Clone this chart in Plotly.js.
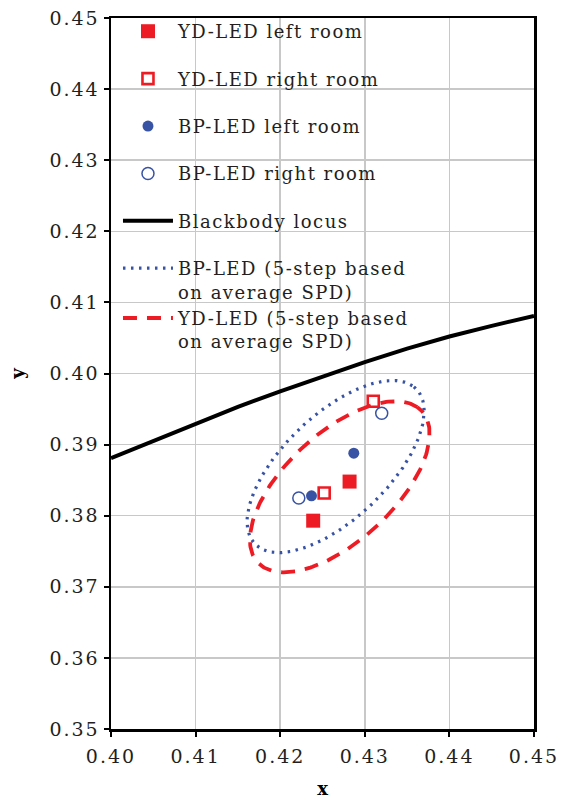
<!DOCTYPE html>
<html>
<head>
<meta charset="utf-8">
<script src="https://cdn.plot.ly/plotly-3.0.1.min.js"></script>
<style>
  html, body { margin: 0; padding: 0; background: #ffffff; }
  #chart { width: 566px; height: 799px; }
  /* wider, airier lettering for legend and tick labels */
  .legendtext { letter-spacing: 1.5px; }
  .xtick text, .ytick text { letter-spacing: 2px; }
</style>
</head>
<body>
<div id="chart"></div>
<script>
// Chromaticity coordinates (CIE 1931 x, y) of the measured rooms
const ydLeftX = [0.4282, 0.4239];
const ydLeftY = [0.3848, 0.3793];
const ydRightX = [0.4310, 0.4252];
const ydRightY = [0.3961, 0.3832];
const bpLeftX = [0.4287, 0.4237];
const bpLeftY = [0.3888, 0.3828];
const bpRightX = [0.4320, 0.4222];
const bpRightY = [0.3944, 0.3825];

// Planckian (blackbody) locus across the plotted window
const locusX = [0.400, 0.405, 0.410, 0.415, 0.420, 0.425, 0.430, 0.435, 0.440, 0.445, 0.450];
const locusY = [0.3881, 0.3905, 0.3930, 0.3953, 0.3975, 0.3996, 0.4016, 0.4035, 0.4052, 0.4067, 0.4081];

// 5-step ellipses based on the average SPD: [BP-LED, YD-LED]
const ellipseCx = [0.42655, 0.42704];
const ellipseCy = [0.38691, 0.38407];
const ellipseA = [0.01454, 0.01447];
const ellipseB = [0.00668, 0.00694];
const ellipseThetaDeg = [51.4, 50.7];

// Legend labels
const labels = [
  'YD-LED left room',
  'YD-LED right room',
  'BP-LED left room',
  'BP-LED right room',
  'Blackbody locus',
  'BP-LED (5-step based<br>on average SPD)',
  'YD-LED (5-step based<br>on average SPD)'
];

const RED = '#ed1c24';
const BLUE = '#3953a4';
const INK = '#231f20';
const FONT = 'DejaVu Serif, Liberation Serif, serif';

// outline of an ellipse given its centre, semi-axes and orientation
function ellipseOutline(i) {
  const th = ellipseThetaDeg[i] * Math.PI / 180;
  const xs = [], ys = [];
  const n = 240;
  for (let k = 0; k <= n; k++) {
    const t = 2 * Math.PI * k / n;
    const ex = ellipseA[i] * Math.cos(t);
    const ey = ellipseB[i] * Math.sin(t);
    xs.push(ellipseCx[i] + ex * Math.cos(th) - ey * Math.sin(th));
    ys.push(ellipseCy[i] + ex * Math.sin(th) + ey * Math.cos(th));
  }
  return { xs, ys };
}

const bpEll = ellipseOutline(0);
const ydEll = ellipseOutline(1);

const traces = [
  {
    x: locusX, y: locusY, type: 'scatter', mode: 'lines',
    name: labels[4], legendgroup: 'g5', legendrank: 5,
    line: { color: '#000000', width: 4 }
  },
  {
    x: bpEll.xs, y: bpEll.ys, type: 'scatter', mode: 'lines',
    name: labels[5], legendgroup: 'g6', legendrank: 6,
    line: { color: BLUE, width: 3.2, dash: '2.5px,5.5px' }
  },
  {
    x: ydEll.xs, y: ydEll.ys, type: 'scatter', mode: 'lines',
    name: labels[6], legendgroup: 'g6', legendrank: 7,
    line: { color: RED, width: 3.8, dash: '14px,10px' }
  },
  {
    x: ydLeftX, y: ydLeftY, type: 'scatter', mode: 'markers',
    name: labels[0], legendgroup: 'g1', legendrank: 1,
    marker: { symbol: 'square', size: 14, color: RED }
  },
  {
    x: ydRightX, y: ydRightY, type: 'scatter', mode: 'markers',
    name: labels[1], legendgroup: 'g2', legendrank: 2,
    marker: { symbol: 'square-open', size: 11, color: RED, line: { width: 2.6 } }
  },
  {
    x: bpLeftX, y: bpLeftY, type: 'scatter', mode: 'markers',
    name: labels[2], legendgroup: 'g3', legendrank: 3,
    marker: { symbol: 'circle', size: 11, color: BLUE }
  },
  {
    x: bpRightX, y: bpRightY, type: 'scatter', mode: 'markers',
    name: labels[3], legendgroup: 'g4', legendrank: 4,
    marker: { symbol: 'circle-open', size: 12, color: BLUE, line: { width: 1.5 } }
  }
];

const layout = {
  width: 566,
  height: 799,
  margin: { l: 111, r: 32, t: 18, b: 70 },
  paper_bgcolor: '#ffffff',
  plot_bgcolor: '#ffffff',
  font: { family: FONT, size: 18, color: INK },
  showlegend: true,
  legend: {
    x: 0.0165, y: 1.007, xanchor: 'left', yanchor: 'top',
    bgcolor: 'rgba(255,255,255,0)', borderwidth: 0,
    font: { family: FONT, size: 18, color: INK },
    tracegroupgap: 21,
    itemwidth: 50,
    valign: 'top',
    traceorder: 'grouped'
  },
  // white panel behind the legend: hides the grid, keeps the curves visible
  shapes: [{
    type: 'rect', layer: 'between',
    xref: 'paper', yref: 'paper',
    x0: 0, x1: 0.66, y0: 0.536, y1: 1,
    fillcolor: '#ffffff', line: { width: 0 }
  }],
  xaxis: {
    range: [0.40, 0.45], tickmode: 'linear', tick0: 0.40, dtick: 0.01,
    tickformat: '.2f',
    showgrid: true, gridcolor: '#c8c8c8', gridwidth: 1.5,
    zeroline: false,
    showline: true, linecolor: '#000000', linewidth: 2.5, mirror: true,
    ticks: 'outside', ticklen: 5, tickwidth: 2, tickcolor: '#000000',
    ticklabelstandoff: 4,
    tickfont: { family: FONT, size: 19, color: INK },
    title: { text: '<b>x</b>', font: { family: FONT, size: 18, color: '#000000' }, standoff: 21 }
  },
  yaxis: {
    range: [0.35, 0.45], tickmode: 'linear', tick0: 0.35, dtick: 0.01,
    tickformat: '.2f',
    showgrid: true, gridcolor: '#c8c8c8', gridwidth: 1.5,
    zeroline: false,
    showline: true, linecolor: '#000000', linewidth: 2.5, mirror: true,
    ticks: 'outside', ticklen: 5, tickwidth: 2, tickcolor: '#000000',
    tickfont: { family: FONT, size: 19, color: INK },
    title: { text: '<b>y</b>', font: { family: FONT, size: 18, color: '#000000' }, standoff: 20 }
  },
  // inner tick marks every 0.005 on both axes
  xaxis2: {
    overlaying: 'x', anchor: 'y', side: 'bottom',
    range: [0.40, 0.45], tickmode: 'linear', tick0: 0.40, dtick: 0.005,
    showticklabels: false, showgrid: false, zeroline: false, showline: false,
    ticks: 'inside', ticklen: 4, tickwidth: 2, tickcolor: '#000000'
  },
  yaxis2: {
    overlaying: 'y', anchor: 'x', side: 'left',
    range: [0.35, 0.45], tickmode: 'linear', tick0: 0.35, dtick: 0.005,
    showticklabels: false, showgrid: false, zeroline: false, showline: false,
    ticks: 'inside', ticklen: 3, tickwidth: 2, tickcolor: '#000000'
  }
};

Plotly.newPlot('chart', traces, layout, { displayModeBar: false, staticPlot: true });
</script>
</body>
</html>
